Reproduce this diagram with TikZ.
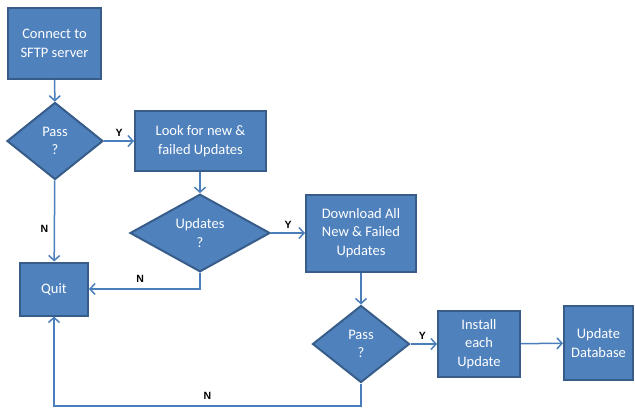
\documentclass[tikz,border=0pt]{standalone}
\usepackage{fontspec}
\setmainfont{Carlito}
\newfontfamily\labelfont{Liberation Sans}
\usetikzlibrary{shapes.geometric,arrows.meta}
\definecolor{boxblue}{HTML}{4F81BD}
\definecolor{boxline}{HTML}{385D8A}
\definecolor{arrowblue}{HTML}{4A7EBB}
\begin{document}
\begin{tikzpicture}[x=1pt,y=-1pt,
  box/.style={draw=boxline, line width=2pt, fill=boxblue, text=white, align=center,
    inner sep=0pt, font=\fontsize{14.5}{18.5}\selectfont},
  decision/.style={box, diamond, aspect=1},
  link/.style={draw=arrowblue, line width=1.5pt, -{Straight Barb[length=5pt,width=11pt]}},
  yn/.style={font=\labelfont\bfseries\fontsize{10.5}{12}\selectfont, text=black}]

\useasboundingbox (0,0) rectangle (635,410);

\node [box, minimum width=93pt, minimum height=71pt] (v1) at (54.5,43.5) {Connect to\\SFTP server};
\node [decision, minimum width=96pt, minimum height=77pt] (v2) at (55,141) {Pass\\?};
\node [box, minimum width=131pt, minimum height=60pt] (v3) at (200.5,141) {Look for new \&\\failed Updates};
\node [decision, minimum width=140pt, minimum height=77pt] (v4) at (200,233) {Updates\\?};
\node [box, minimum width=110pt, minimum height=77pt] (v5) at (361,233) {Download All\\New \& Failed\\Updates};
\node [box, minimum width=68pt, minimum height=53pt] (v6) at (54,289) {Quit};
\node [decision, minimum width=97pt, minimum height=77pt] (v7) at (361,344) {Pass\\?};
\node [box, minimum width=82pt, minimum height=66pt] (v8) at (479,344) {Install\\each\\Update};
\node [box, minimum width=69pt, minimum height=74pt] (v9) at (598.5,343) {Update\\Database};
\coordinate (v10) at (361,406);

\draw [link] (v1) -- (v2);
\draw [link] (v2) -- (v3) node [yn, pos=0.5, above] {Y};
\draw [link] (v3.south -| v4.north) -- (v4);
\draw [link] (v4) -- (v5) node [yn, pos=0.5, above] {Y};
\draw [link] (v4.south) |- (v6.east) node [yn, pos=0.77, above=2pt] {N};
\draw [link] (v2) -- (v6) node [yn, pos=0.6, left=2pt] {N};
\draw [link] (v5) -- (v7);
\draw [link] (v7) -- (v8) node [yn, pos=0.45, above] {Y};
\draw [link] (v8) -- (v9);
\draw [link] (v7.south) -- (v10) -| (v6.south) node [yn, pos=0.25, above=2pt] {N};

\end{tikzpicture}
\end{document}
